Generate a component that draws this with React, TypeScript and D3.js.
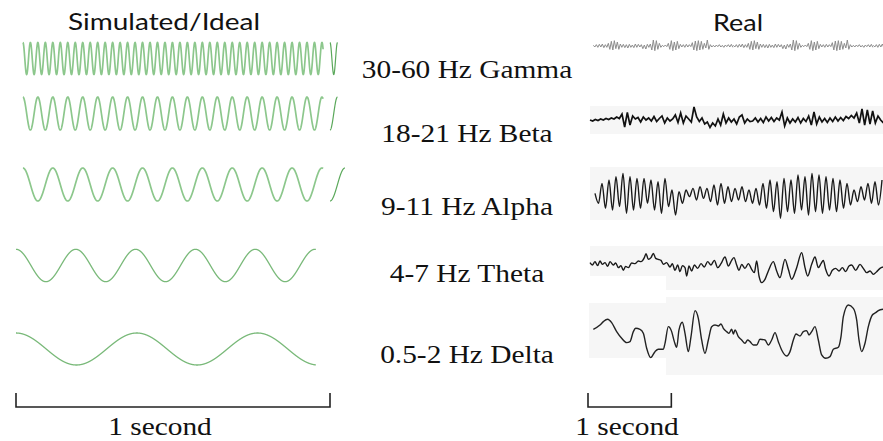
import React from 'react';
import * as d3 from 'd3';

const W = 883;
const H = 441;

// Band names shown between the two columns
const bandLabels = ['30-60 Hz Gamma', '18-21 Hz Beta', '9-11 Hz Alpha', '4-7 Hz Theta', '0.5-2 Hz Delta'];

// Simulated (ideal) sinusoids: frequency in Hz and drawn time span in seconds
const simFreqHz = [42, 21, 10.5, 5.25, 2.6];
const simStartS = [0.022, 0.022, 0.022, 0, 0];
const simEndS = [0.978, 0.978, 0.978, 0.955, 0.955];
// Short trailing pieces after the 1 s window (start phase and length in cycles)
const tailStartS = [1.0, 1.0, 1.0];
const tailPhaseCycles = [0, 0.5, 0.5];
const tailLenCycles = [1, 0.5, 0.5];

// Real EEG traces. Time in samples at 250 Hz, amplitude in µV.
const SAMPLE_RATE = 250;
// Display gain per channel (gamma, beta, alpha, theta, delta)
const channelGain = [1, 1.5, 1, 1, 1];

// Gamma: one recorded segment, tiled along the strip
const gammaStart = 25;
const gammaStep = 4.5;
const gammaTileLen = 420;
const gammaTile = [
  2, -3, 4, -4, 5, -3, 6, -5, 4, -4,
  8, -10, 14, -12, 16, -8, 12, -10, 6,
  -4, 5, -5, 4, -6, 5, -4, 3, -5, 6, -4, 5, -3,
  4, -8, 3, -9, 5, -4, 6,
  -12, 18, -14, 16, -10, 8, -4,
  2, -2, 3, -2,
  8, -10, 16, -14, 12, -12, 14, -8, 5,
  -3, 4, -4, 5, -3, 4, -2,
  10, -12, 15, -14, 16, -12, 14, -10, 8,
  -6, 18, -10, 4, -3, 2,
  -3, 3, -2, 4, -3, 2, -4, 3, -2, 4, -3, 5, -4,
];

// Beta: evenly sampled
const betaStart = 15;
const betaStep = 8;
const betaValues = [
  0, -2, 1, -1, 2, 0, 3, 1, 4, 2, 6,
  3, 12, -14, 15, -10, 8, 2, 5, -4, 6,
  0, 4, -2, 7, -3, 3, 8, -6, 4, -2,
  2, 10, -5, 14, -6, 8, 2, -4, 26, 6,
  -3, 4, -8, -4, -15, -6, -12, 2, -10, 12,
  -6, 4, -4, 2, -8, 6, 10, -6, 2, -3,
  -2, 4, -4, 3, -5, 6, -2, 5, -3, 4,
  0, 16, -12, 4, -6, 2, -4, 5, -6, 3,
  -3, 8, -10, 16, -8, 6, -4, 3, -5, 4,
  -3, 6, -2, 5, -1, 7, 3, 9, 4, 14,
  -6, 22, -10, 20, -8, 18, -6, 8, 0, -6,
];

// Alpha: successive peaks and troughs
const alphaStart = 30;
const alphaStep = 10.5;
const alphaValues = [
  5, -25, 35, -40, 45, -45, 55, -35, 65, -55, 55, -45, 50, -40, 50, -25, 45, -45, 40, -55, 50, -35,
  15, -60, 10, -25, 15, -5, 20,
  -15, 25, -10, 20, -20, 30, -30, 35, -25, 25, -20, 20, -15, 25, -20, 15, -25, 20,
  -30, 35, -40, 45, -50, 40, -70, 50, -50, 45, -55, 60, -45, 55, -60, 65, -50, 60, -55, 55, -45, 50, -50, 45, -40, 35, -30,
  15, -20, 25, -15, 35, -25, 40, -30, 45,
];

// Theta: [sample, µV]
const thetaPoints: [number, number][] = [
  [15, 7], [22, 0], [30, 10], [38, -2], [45, 12], [52, 2], [60, 7], [68, -4], [75, 10], [85, 0],
  [92, 6], [100, -8], [108, -2], [115, -16], [122, -4], [130, -8], [140, 6], [150, 4], [160, 12], [168, 10],
  [178, 22], [183, 34], [190, 17], [198, 22], [205, 35], [212, 20], [220, 17], [228, 14], [235, 2], [245, 7],
  [255, -6], [262, 4], [270, -16], [278, 0], [285, -20], [292, -2], [300, -8], [305, -33], [312, -3], [320, -18],
  [328, 0], [338, -10], [348, 4], [358, -6], [368, 10], [378, 0], [388, 14], [398, -8], [408, 4], [420, 24],
  [430, -3], [440, 14], [447, 22], [455, 0], [462, -16], [470, 2], [480, -10], [490, 4], [500, -13], [508, -23],
  [515, 12], [522, -33], [530, -53], [540, -43], [550, -18], [565, 10], [575, -18], [585, -38], [600, 17], [610, -13],
  [620, -43], [635, -8], [650, 37], [660, -8], [668, -33], [680, 2], [690, 24], [700, -8], [708, 4], [715, 14],
  [722, -13], [732, -33], [742, -16], [752, -10], [762, -18], [772, -8], [782, -20], [792, -3], [800, 0], [812, -16],
  [825, 2], [835, -10], [845, -23], [855, -18], [865, -28], [875, -20], [885, -10], [894, -6],
];

// Delta: [sample, µV]
const deltaPoints: [number, number][] = [
  [25, 12], [45, 25], [55, 35], [68, 42], [80, 32], [95, 5], [110, -15], [125, -28], [135, -25], [145, 5],
  [152, 15], [165, 12], [175, 0], [185, -45], [197, -73], [210, -55], [220, -48], [235, -48], [240, -30], [250, 20],
  [260, 5], [268, -25], [275, -42], [282, 10], [292, 33], [300, 0], [310, -55], [318, -10], [330, 68], [340, 45],
  [350, -20], [360, -60], [370, -20], [380, 20], [390, 25], [400, 22], [408, 28], [415, 15], [425, 5], [432, 0],
  [440, 12], [445, -2], [450, 10], [460, -10], [470, -20], [480, -30], [488, -20], [495, -25], [505, -35], [515, -35],
  [525, -18], [540, -20], [550, -35], [560, -20], [570, 2], [580, -25], [590, -50], [605, -68], [615, -55], [625, -20],
  [633, -2], [645, -8], [655, 5], [665, 8], [672, -5], [680, 5], [690, 20], [700, -20], [710, -65], [722, -75],
  [735, -70], [745, -48], [760, -42], [768, -10], [775, 50], [790, 85], [805, 75], [815, 40], [822, -20], [830, -55],
  [840, -30], [850, 20], [862, 55], [872, 62], [880, 68], [894, 72],
];

export default function App() {
  // Left column: one second of simulated signal
  const simX = d3.scaleLinear().domain([0, 1]).range([16, 330]);
  const simRows = [58.5, 113.5, 184.5, 265.5, 349];
  const simAmp = [16, 16.5, 16.5, 16.2, 16];

  // Right column: recorded samples
  const realX = d3.scaleLinear().domain([0, 900]).range([585, 885]);
  const realRows = [46, 120, 195, 265, 333.3];
  const realY = (ch: number) => {
    const cy = realRows[ch];
    const half = 33.33 * channelGain[ch];
    return d3.scaleLinear().domain([-100, 100]).range([cy + half, cy - half]);
  };

  const labelX = 467;
  const labelBaselines = [77.5, 142, 215, 282, 363];

  const simPath = (i: number, t0: number, t1: number, phaseCycles: number, anchor: number) => {
    const y = d3.scaleLinear().domain([-1, 1]).range([simRows[i] + simAmp[i], simRows[i] - simAmp[i]]);
    const ts = d3.range(t0, t1, 0.0004).concat([t1]);
    const line = d3
      .line<number>()
      .x((t) => simX(t))
      .y((t) => y(Math.cos(2 * Math.PI * (simFreqHz[i] * (t - anchor) + phaseCycles))));
    return line(ts) || '';
  };

  const seriesPath = (values: number[], start: number, step: number, ch: number, curve: d3.CurveFactory) => {
    const y = realY(ch);
    const line = d3
      .line<number>()
      .x((_, k) => realX(start + k * step))
      .y((v) => y(v))
      .curve(curve);
    return line(values) || '';
  };

  const pairPath = (pts: [number, number][], ch: number) => {
    const y = realY(ch);
    const line = d3
      .line<[number, number]>()
      .x((d) => realX(d[0]))
      .y((d) => y(d[1]))
      .curve(d3.curveMonotoneX);
    return line(pts) || '';
  };

  const gammaTiles = [0, 1, 2].map((k) =>
    seriesPath(gammaTile, gammaStart + k * gammaTileLen, gammaStep, 0, d3.curveLinear),
  );

  const serif = "'Liberation Serif', 'Times New Roman', serif";
  const sans = "Lato, 'Open Sans', sans-serif";
  const stretch = 'scale(1.19,1)';

  const barY = 407;
  const barTick = 14;
  const realBar0 = 9;
  const realBar1 = realBar0 + SAMPLE_RATE;

  const bg = '#f6f6f6';

  return (
    <svg
      width={W}
      height={H}
      viewBox={`0 0 ${W} ${H}`}
      style={{ position: 'absolute', left: 0, top: 0, display: 'block', background: '#fff' }}
    >
      <defs>
        <clipPath id="realClip">
          <rect x={585} y={0} width={298} height={H} />
        </clipPath>
      </defs>

      {/* Column titles */}
      <text x={164} y={30} textAnchor="middle" fontFamily={sans} fontSize={23} textLength={192} lengthAdjust="spacingAndGlyphs" fill="#111">
        Simulated/Ideal
      </text>
      <text x={738} y={31} textAnchor="middle" fontFamily={sans} fontSize={23} textLength={50} lengthAdjust="spacingAndGlyphs" fill="#111">
        Real
      </text>

      {/* Simulated waves */}
      {simFreqHz.map((_, i) => (
        <path
          key={`sim${i}`}
          d={simPath(i, simStartS[i], simEndS[i], 0, simStartS[i])}
          fill="none"
          stroke={i >= 3 ? '#79b979' : '#8cc78c'}
          strokeWidth={i >= 3 ? 1.3 : 1.7}
        />
      ))}
      {tailStartS.map((t0, i) => (
        <path
          key={`tail${i}`}
          d={simPath(i, t0, t0 + tailLenCycles[i] / simFreqHz[i], tailPhaseCycles[i], t0)}
          fill="none"
          stroke="#5aa85a"
          strokeWidth={1.2}
        />
      ))}

      {/* Band labels */}
      {bandLabels.map((s, i) => (
        <text
          key={s}
          transform={`translate(${labelX},${labelBaselines[i]}) ${stretch}`}
          textAnchor="middle"
          fontFamily={serif}
          fontSize={24.7}
          fill="#111"
        >
          {s}
        </text>
      ))}

      {/* Paper backgrounds behind recorded traces */}
      <rect x={590} y={106} width={293} height={28} fill={bg} />
      <rect x={590} y={167} width={293} height={53} fill={bg} />
      <rect x={590} y={246} width={76} height={30} fill={bg} />
      <rect x={666} y={246} width={217} height={44} fill={bg} />
      <rect x={589} y={303} width={77} height={55} fill={bg} />
      <rect x={666} y={297} width={217} height={78} fill={bg} />

      {/* Recorded traces */}
      <g clipPath="url(#realClip)">
        {gammaTiles.map((d, k) => (
          <path key={`g${k}`} d={d} fill="none" stroke="#8c8c8c" strokeWidth={1} />
        ))}
        <path d={seriesPath(betaValues, betaStart, betaStep, 1, d3.curveLinear)} fill="none" stroke="#111" strokeWidth={1.7} />
        <path d={seriesPath(alphaValues, alphaStart, alphaStep, 2, d3.curveMonotoneX)} fill="none" stroke="#1a1a1a" strokeWidth={1.4} />
        <path d={pairPath(thetaPoints, 3)} fill="none" stroke="#1a1a1a" strokeWidth={1.4} />
        <path d={pairPath(deltaPoints, 4)} fill="none" stroke="#222" strokeWidth={1.4} />
      </g>

      {/* 1 second scale bars */}
      <path
        d={`M${simX(0)},${barY - barTick}V${barY}H${simX(1)}V${barY - barTick}`}
        fill="none"
        stroke="#222"
        strokeWidth={1.6}
      />
      <text transform={`translate(160,435) ${stretch}`} textAnchor="middle" fontFamily={serif} fontSize={24.7} fill="#111">
        1 second
      </text>
      <path
        d={`M${realX(realBar0)},${barY - barTick}V${barY}H${realX(realBar1)}V${barY - barTick}`}
        fill="none"
        stroke="#222"
        strokeWidth={1.6}
      />
      <text transform={`translate(627,435) ${stretch}`} textAnchor="middle" fontFamily={serif} fontSize={24.7} fill="#111">
        1 second
      </text>
    </svg>
  );
}
